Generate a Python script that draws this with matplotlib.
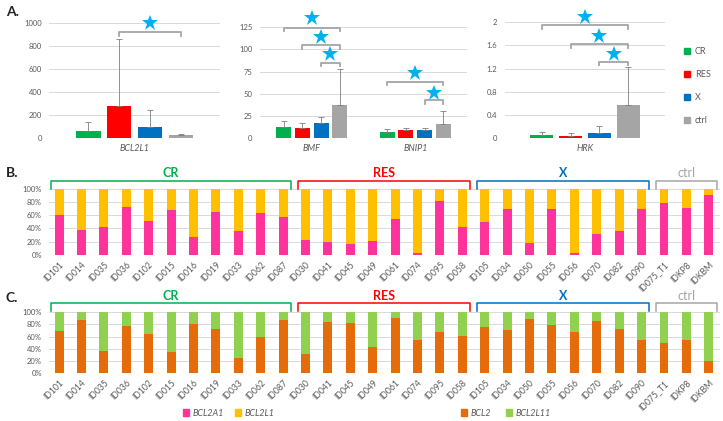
import matplotlib
matplotlib.use('Agg')
import matplotlib.pyplot as plt
from matplotlib.patches import Patch
import numpy as np

plt.rcParams['font.family'] = ['Lato', 'DejaVu Sans']

# ---------------- data ----------------
groups = ['CR', 'RES', 'X', 'ctrl']
group_colors = ['#00B050', '#FF0000', '#0070C0', '#A5A5A5']

genes_a1 = ['BCL2L1']
bcl2l1_mean = [65, 280, 95, 28]
bcl2l1_err = [72, 580, 150, 10]

genes_a2 = ['BMF', 'BNIP1']
bmf_mean = [12.0, 11.3, 17.3, 36.9]
bmf_err = [6.8, 6.0, 6.0, 40.7]
bnip1_mean = [7.2, 8.7, 8.7, 16.2]
bnip1_err = [2.6, 2.2, 2.2, 14.7]

genes_a3 = ['HRK']
hrk_mean = [0.046, 0.03, 0.086, 0.565]
hrk_err = [0.052, 0.05, 0.121, 0.655]

samples = ['ID101', 'ID014', 'ID035', 'ID036', 'ID102', 'ID015', 'ID016', 'ID019', 'ID033', 'ID062', 'ID087',
           'ID030', 'ID041', 'ID045', 'ID049', 'ID061', 'ID074', 'ID095', 'ID058',
           'ID105', 'ID034', 'ID050', 'ID055', 'ID056', 'ID070', 'ID082', 'ID090',
           'ID075_T1', 'IDKP8', 'IDKBM']
group_sizes = [11, 8, 8, 3]

bcl2a1_pct = [60.4, 38, 42, 72, 51.8, 67.5, 27, 65, 36.5, 63, 58,
              22.3, 18.8, 16.8, 21.3, 54.3, 2.5, 81.7, 42.6,
              50.3, 70, 17.8, 69, 2.5, 32, 36, 69,
              78, 71.6, 91.4]
bcl2_pct = [69.2, 87.4, 36.8, 77.5, 64.8, 34.6, 80.8, 72.5, 25.3, 59.3, 87.4,
            31.3, 84, 81.9, 43.4, 90.7, 54.4, 67.6, 61,
            75.8, 70.9, 88.5, 79, 67.6, 86.3, 72.5, 53.8,
            50, 53.8, 19.8]

# significance brackets: (gene index, bar from, bar to, bracket height, star height)
sig_a1 = [(0, 1, 3, 924, 1000)]
sig_a2 = [(0, 0, 3, 124.5, 135.5), (0, 1, 3, 104.7, 113.7), (0, 2, 3, 84.7, 94.5),
          (1, 0, 3, 63.6, 73.7), (1, 2, 3, 42.9, 51.2)]
sig_a3 = [(0, 0, 3, 1.948, 2.087), (0, 1, 3, 1.62, 1.763), (0, 2, 3, 1.314, 1.452)]

# ---------------- styles ----------------
W, H = 723, 421
fig = plt.figure(figsize=(W / 100, H / 100), dpi=100)
TXT = '#595959'
GRID = '#D9D9D9'
BRK = '#A5A5A5'
STAR = '#00B0F0'
PINK, YEL = '#FF3399', '#FFC000'
ORG, LGR = '#E46C0A', '#92D050'


def px_axes(x0, x1, ytop, ybot):
    return fig.add_axes([x0 / W, 1 - ybot / H, (x1 - x0) / W, (ybot - ytop) / H])


SP, BW = 0.181, 0.143
offsets = (np.arange(4) - 1.5) * SP


def panel_a(ax, genes, means, errs, ymax, step, fmt, sigs, tip_px, axh_px, xlim):
    x = np.arange(len(genes))
    for k in range(4):
        m = [means[g][k] for g in range(len(genes))]
        e = [errs[g][k] for g in range(len(genes))]
        ax.bar(x + offsets[k], m, width=BW, color=group_colors[k], zorder=3)
        ax.errorbar(x + offsets[k], m, yerr=[np.zeros(len(m)), e], fmt='none',
                    ecolor='#7F7F7F', elinewidth=0.6, capsize=2.5, capthick=0.6, zorder=4)
    ax.set_xlim(*xlim)
    ax.set_ylim(0, ymax)
    ticks = np.arange(0, ymax + step / 2, step)
    ax.set_yticks(ticks, [fmt(t) for t in ticks])
    ax.grid(axis='y', color=GRID, lw=0.7, zorder=0)
    ax.set_axisbelow(True)
    for s in ax.spines.values():
        s.set_visible(False)
    ax.tick_params(axis='y', length=0, pad=5.5, labelsize=5.5, labelcolor=TXT)
    ax.set_xticks(x, genes)
    ax.tick_params(axis='x', length=0, pad=4.5, labelsize=6.5, labelcolor=TXT)
    for lbl in ax.get_xticklabels():
        lbl.set_style('italic')
    tip = tip_px / axh_px * ymax
    for g, b0, b1, yb, ys in sigs:
        xa, xb = g + offsets[b0], g + offsets[b1]
        ax.plot([xa, xa, xb, xb], [yb - tip, yb, yb, yb - tip], color=BRK, lw=1.3,
                clip_on=False, zorder=5)
        ax.plot([(xa + xb) / 2], [ys], marker='*', ms=12, color=STAR, ls='none',
                clip_on=False, zorder=6, markeredgewidth=0)


ax1 = px_axes(49.3, 220, 23.3, 138)
panel_a(ax1, genes_a1, [bcl2l1_mean], [bcl2l1_err], 1000, 200, lambda t: f'{t:.0f}',
        sig_a1, 3.5, 114.7, (-0.5, 0.5))
ax2 = px_axes(260, 467, 27.3, 138)
panel_a(ax2, genes_a2, [bmf_mean, bnip1_mean], [bmf_err, bnip1_err], 125, 25,
        lambda t: f'{t:.0f}', sig_a2, 3.5, 110.7, (-0.5, 1.5))
ax3 = px_axes(505, 665, 22.3, 138)
panel_a(ax3, genes_a3, [hrk_mean], [hrk_err], 2, 0.4,
        lambda t: '0' if t == 0 else f'{t:g}', sig_a3, 3.5, 115.7, (-0.5, 0.5))

fig.legend(handles=[Patch(color=c, label=g) for g, c in zip(groups, group_colors)],
           loc='center left', bbox_to_anchor=(676 / W, 1 - 86 / H), frameon=False,
           fontsize=6.5, labelcolor=TXT, handlelength=0.7, handleheight=0.7,
           handletextpad=0.5, labelspacing=1.55)


# ---------------- panels B and C ----------------
def panel_stack(ax, bottom_vals, c_bot, c_top, brk_y, lab_y, tip):
    x = np.arange(len(samples))
    bot = np.array(bottom_vals)
    ax.bar(x, bot, width=0.4, color=c_bot, zorder=3)
    ax.bar(x, 100 - bot, bottom=bot, width=0.4, color=c_top, zorder=3)
    ax.set_xlim(-0.43, len(samples) - 0.5)
    ax.set_ylim(0, 100)
    ax.set_yticks(np.arange(0, 101, 20), [f'{t}%' for t in range(0, 101, 20)])
    ax.grid(axis='y', color=GRID, lw=0.7, zorder=0)
    ax.set_axisbelow(True)
    for s in ax.spines.values():
        s.set_visible(False)
    ax.tick_params(axis='y', length=0, pad=5.5, labelsize=5.5, labelcolor=TXT)
    ax.set_xticks(x, samples, rotation=45, ha='right', rotation_mode='anchor')
    ax.tick_params(axis='x', length=0, pad=4, labelsize=6.2, labelcolor=TXT)
    start = 0
    for g, n, c in zip(groups, group_sizes, group_colors):
        xa, xb = start - 0.35, start + n - 1 + 0.35
        ax.plot([xa, xa, xb, xb], [brk_y - tip, brk_y, brk_y, brk_y - tip], color=c,
                lw=1.1, clip_on=False, zorder=5)
        ax.text((xa + xb) / 2, lab_y, g, color=c, ha='center', va='center',
                fontsize=9, fontweight='bold' if g != 'ctrl' else 'normal', clip_on=False)
        start += n


axB = px_axes(49.4, 720, 189, 254.7)
panel_stack(axB, bcl2a1_pct, PINK, YEL, 112.2, 124.8, 11.5)
axC = px_axes(49.4, 720, 312.3, 373)
panel_stack(axC, bcl2_pct, ORG, LGR, 114.8, 127.5, 13)

fig.legend(handles=[Patch(color=PINK, label='BCL2A1'), Patch(color=YEL, label='BCL2L1')],
           ncol=2, loc='center', bbox_to_anchor=(229 / W, 1 - 413 / H), frameon=False,
           prop={'style': 'italic', 'size': 6.5}, labelcolor=TXT, handlelength=0.7,
           handleheight=0.7, handletextpad=0.4, columnspacing=1.2)
fig.legend(handles=[Patch(color=ORG, label='BCL2'), Patch(color=LGR, label='BCL2L11')],
           ncol=2, loc='center', bbox_to_anchor=(506 / W, 1 - 413 / H), frameon=False,
           prop={'style': 'italic', 'size': 6.5}, labelcolor=TXT, handlelength=0.7,
           handleheight=0.7, handletextpad=0.4, columnspacing=1.6)

for lab, y in [('A.', 12), ('B.', 173), ('C.', 298)]:
    fig.text(6 / W, 1 - y / H, lab, fontsize=10, fontweight='bold', va='center', ha='left',
             color='#222222')

fig.savefig('out.png', dpi=100)
